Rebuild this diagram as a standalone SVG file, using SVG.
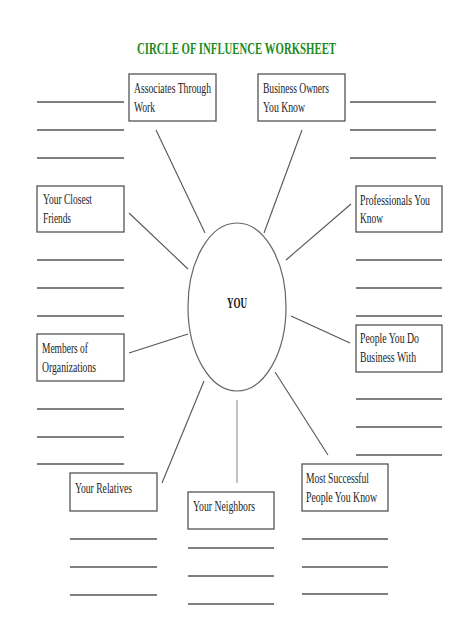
<svg xmlns="http://www.w3.org/2000/svg" width="474" height="632" viewBox="0 0 474 632">
<style>
.box{fill:#fff;stroke:#555;stroke-width:1.3}
.ln{stroke:#555;stroke-width:1.4}
.cn{stroke:#555;stroke-width:1.1}
.t{font-family:"Liberation Serif","Times New Roman",serif;font-size:14px;fill:#222}
.title{font-family:"Liberation Serif","Times New Roman",serif;font-size:16px;font-weight:bold;fill:#1e8a1e}
</style>
<rect width="474" height="632" fill="#fff"/>
<text class="title" x="137" y="54" textLength="199" lengthAdjust="spacingAndGlyphs">CIRCLE OF INFLUENCE WORKSHEET</text>
<g id="connectors">
<line class="cn" x1="156" y1="130" x2="205" y2="233"/>
<line class="cn" x1="302" y1="130" x2="264" y2="233"/>
<line class="cn" x1="129" y1="213" x2="188" y2="269"/>
<line class="cn" x1="351" y1="204" x2="286" y2="260"/>
<line class="cn" x1="129" y1="353" x2="188" y2="334"/>
<line class="cn" x1="350" y1="343" x2="291" y2="316"/>
<line class="cn" x1="204" y1="381" x2="162" y2="483"/>
<line x1="237" y1="400" x2="237" y2="483" stroke="#999" stroke-width="1.2"/>
<line class="cn" x1="275" y1="372" x2="328" y2="455"/>
</g>
<g id="you">
<ellipse cx="237" cy="307" rx="49" ry="84" fill="#fff" stroke="#666" stroke-width="1.2"/>
<text x="227" y="308" font-family="Liberation Serif, serif" font-size="15" font-weight="bold" fill="#111" textLength="20" lengthAdjust="spacingAndGlyphs">YOU</text>
</g>
<g id="associates">
<rect class="box" x="129" y="74" width="87" height="47"/>
<text class="t" x="134" y="93" textLength="77" lengthAdjust="spacingAndGlyphs">Associates Through</text>
<text class="t" x="134" y="112" textLength="21" lengthAdjust="spacingAndGlyphs">Work</text>
<line class="ln" x1="37" y1="102" x2="124" y2="102"/>
<line class="ln" x1="37" y1="130" x2="124" y2="130"/>
<line class="ln" x1="37" y1="158" x2="124" y2="158"/>
</g>
<g id="business-owners">
<rect class="box" x="258" y="74" width="87" height="47"/>
<text class="t" x="263" y="93" textLength="66" lengthAdjust="spacingAndGlyphs">Business Owners</text>
<text class="t" x="263" y="112" textLength="42" lengthAdjust="spacingAndGlyphs">You Know</text>
<line class="ln" x1="350" y1="102" x2="436" y2="102"/>
<line class="ln" x1="350" y1="130" x2="436" y2="130"/>
<line class="ln" x1="350" y1="158" x2="436" y2="158"/>
</g>
<g id="closest-friends">
<rect class="box" x="37" y="186" width="87" height="46"/>
<text class="t" x="43" y="204" textLength="49" lengthAdjust="spacingAndGlyphs">Your Closest</text>
<text class="t" x="43" y="223" textLength="28" lengthAdjust="spacingAndGlyphs">Friends</text>
<line class="ln" x1="37" y1="260" x2="124" y2="260"/>
<line class="ln" x1="37" y1="288" x2="124" y2="288"/>
<line class="ln" x1="37" y1="316" x2="124" y2="316"/>
</g>
<g id="professionals">
<rect class="box" x="356" y="186" width="86" height="46"/>
<text class="t" x="360" y="205" textLength="70" lengthAdjust="spacingAndGlyphs">Professionals You</text>
<text class="t" x="360" y="223" textLength="23" lengthAdjust="spacingAndGlyphs">Know</text>
<line class="ln" x1="356" y1="260" x2="442" y2="260"/>
<line class="ln" x1="356" y1="288" x2="442" y2="288"/>
<line class="ln" x1="356" y1="316" x2="442" y2="316"/>
</g>
<g id="members">
<rect class="box" x="37" y="334" width="87" height="47"/>
<text class="t" x="42" y="353" textLength="46" lengthAdjust="spacingAndGlyphs">Members of</text>
<text class="t" x="42" y="372" textLength="54" lengthAdjust="spacingAndGlyphs">Organizations</text>
<line class="ln" x1="37" y1="409" x2="124" y2="409"/>
<line class="ln" x1="37" y1="437" x2="124" y2="437"/>
<line class="ln" x1="37" y1="464" x2="124" y2="464"/>
</g>
<g id="people-business">
<rect class="box" x="356" y="325" width="86" height="47"/>
<text class="t" x="360" y="343" textLength="59" lengthAdjust="spacingAndGlyphs">People You Do</text>
<text class="t" x="360" y="362" textLength="56" lengthAdjust="spacingAndGlyphs">Business With</text>
<line class="ln" x1="356" y1="399" x2="442" y2="399"/>
<line class="ln" x1="356" y1="427" x2="442" y2="427"/>
<line class="ln" x1="356" y1="455" x2="442" y2="455"/>
</g>
<g id="relatives">
<rect class="box" x="70" y="473" width="87" height="38"/>
<text class="t" x="75" y="493" textLength="57" lengthAdjust="spacingAndGlyphs">Your Relatives</text>
<line class="ln" x1="70" y1="539" x2="157" y2="539"/>
<line class="ln" x1="70" y1="567" x2="157" y2="567"/>
<line class="ln" x1="70" y1="595" x2="157" y2="595"/>
</g>
<g id="neighbors">
<rect class="box" x="188" y="492" width="86" height="37"/>
<text class="t" x="193" y="511" textLength="62" lengthAdjust="spacingAndGlyphs">Your Neighbors</text>
<line class="ln" x1="188" y1="548" x2="274" y2="548"/>
<line class="ln" x1="188" y1="576" x2="274" y2="576"/>
<line class="ln" x1="188" y1="604" x2="274" y2="604"/>
</g>
<g id="most-successful">
<rect class="box" x="302" y="464" width="86" height="47"/>
<text class="t" x="306" y="483" textLength="63" lengthAdjust="spacingAndGlyphs">Most Successful</text>
<text class="t" x="306" y="502" textLength="71" lengthAdjust="spacingAndGlyphs">People You Know</text>
<line class="ln" x1="302" y1="539" x2="388" y2="539"/>
<line class="ln" x1="302" y1="567" x2="388" y2="567"/>
<line class="ln" x1="302" y1="594" x2="388" y2="594"/>
</g>
</svg>
